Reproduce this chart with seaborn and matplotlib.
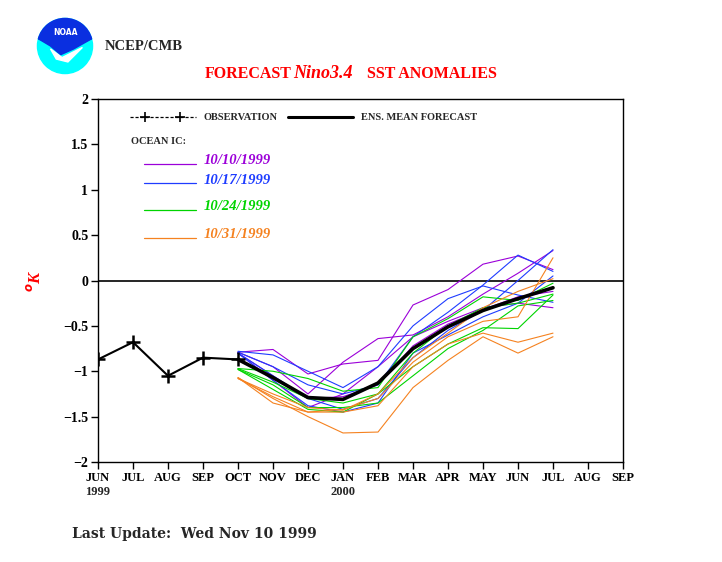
import numpy as np
import pandas as pd
import matplotlib
matplotlib.use("Agg")
import matplotlib.pyplot as plt
import seaborn as sns
from matplotlib.patches import Circle, Wedge, Polygon

# ---------------- data ----------------
month_labels = ["JUN", "JUL", "AUG", "SEP", "OCT", "NOV", "DEC", "JAN",
                "FEB", "MAR", "APR", "MAY", "JUN", "JUL", "AUG", "SEP"]
year_labels = {0: "1999", 7: "2000"}

obs_months = ["JUN", "JUL", "AUG", "SEP", "OCT"]
obs_values = [-0.87, -0.68, -1.05, -0.85, -0.87]

fc_start = 4  # forecasts start at OCT 1999
fc_months = ["OCT", "NOV", "DEC", "JAN", "FEB", "MAR", "APR", "MAY", "JUN", "JUL"]
ens_mean = [-0.87, -1.07, -1.29, -1.31, -1.13, -0.75, -0.51, -0.33, -0.20, -0.08]

ic_labels = ["10/10/1999", "10/17/1999", "10/24/1999", "10/31/1999"]
ic_colors = ["#9b00d9", "#1f3cff", "#00d400", "#f58220"]

members_1010 = [
    [-0.79, -0.76, -1.03, -0.92, -0.88, -0.27, -0.10, 0.18, 0.27, 0.12],
    [-0.79, -0.95, -1.25, -0.90, -0.64, -0.60, -0.40, -0.15, 0.08, 0.33],
    [-0.80, -1.10, -1.40, -1.25, -0.95, -0.62, -0.45, -0.30, -0.25, -0.30],
    [-0.80, -1.05, -1.30, -1.28, -1.15, -0.72, -0.48, -0.32, -0.18, -0.12],
]
members_1017 = [
    [-0.78, -0.82, -1.00, -1.18, -0.95, -0.50, -0.20, -0.06, -0.16, -0.24],
    [-0.79, -0.95, -1.15, -1.25, -1.15, -0.62, -0.35, -0.05, 0.28, 0.10],
    [-0.80, -1.05, -1.30, -1.42, -1.30, -0.85, -0.55, -0.33, 0.00, 0.34],
    [-0.80, -1.10, -1.38, -1.45, -1.35, -0.80, -0.60, -0.40, -0.25, 0.05],
]
members_1024 = [
    [-0.97, -1.00, -1.08, -1.22, -1.18, -0.62, -0.42, -0.18, -0.22, -0.03],
    [-0.97, -1.12, -1.30, -1.35, -1.25, -0.80, -0.50, -0.30, -0.25, -0.15],
    [-0.98, -1.20, -1.42, -1.45, -1.25, -0.95, -0.70, -0.52, -0.53, -0.16],
    [-0.98, -1.15, -1.40, -1.40, -1.35, -1.05, -0.75, -0.55, -0.28, -0.22],
]
members_1031 = [
    [-1.07, -1.30, -1.50, -1.68, -1.67, -1.18, -0.88, -0.62, -0.80, -0.62],
    [-1.07, -1.35, -1.45, -1.45, -1.38, -0.95, -0.70, -0.58, -0.68, -0.58],
    [-1.08, -1.28, -1.45, -1.42, -1.30, -0.90, -0.62, -0.45, -0.40, 0.25],
    [-1.08, -1.25, -1.40, -1.43, -1.25, -0.85, -0.58, -0.30, -0.12, 0.02],
]
all_members = [members_1010, members_1017, members_1024, members_1031]

# ---------------- build tables ----------------
fc_x = list(range(fc_start, fc_start + len(fc_months)))
obs_x = list(range(len(obs_months)))

rows = []
for ic, mem_list in zip(ic_labels, all_members):
    for k, vals in enumerate(mem_list):
        for x, v in zip(fc_x, vals):
            rows.append({"x": x, "value": v, "ic": ic, "member": f"{ic}-{k}"})
members_df = pd.DataFrame(rows)
obs_df = pd.DataFrame({"x": obs_x, "value": obs_values})
mean_df = pd.DataFrame({"x": fc_x, "value": ens_mean})

# ---------------- figure ----------------
sns.set_style("white")
SERIF = ["Liberation Serif", "DejaVu Serif"]
plt.rcParams["font.family"] = SERIF
plt.rcParams["font.weight"] = "bold"

fig = plt.figure(figsize=(7.22, 5.62), dpi=100)
ax = fig.add_axes([98 / 722, 1 - 462 / 562, 525 / 722, 363 / 562])

ax.axhline(0, color="black", lw=1.2, zorder=1)

sns.lineplot(data=members_df, x="x", y="value", hue="ic", units="member",
             estimator=None, palette=dict(zip(ic_labels, ic_colors)),
             lw=0.8, legend=False, ax=ax, zorder=2)
sns.lineplot(data=mean_df, x="x", y="value", color="black", lw=2.6,
             legend=False, ax=ax, zorder=4)
sns.lineplot(data=obs_df, x="x", y="value", color="black", lw=1.5,
             marker="+", markersize=10, markeredgewidth=1.8,
             markeredgecolor="black", markerfacecolor="black",
             legend=False, ax=ax, zorder=5)

ax.set_xlim(0, 15)
ax.set_ylim(-2, 2)
ax.set_xticks(range(len(month_labels)))
ax.set_xticklabels(month_labels, fontsize=9, fontweight="bold")
ax.set_yticks([-2, -1.5, -1, -0.5, 0, 0.5, 1, 1.5, 2])
ax.set_yticklabels(["\u22122", "\u22121.5", "\u22121", "\u22120.5", "0",
                    "0.5", "1", "1.5", "2"], fontsize=10, fontweight="bold")
ax.tick_params(axis="both", direction="out", length=5, width=1,
               colors="black", pad=2, bottom=True, left=True)
for s in ax.spines.values():
    s.set_color("black")
    s.set_linewidth(1)
ax.set_xlabel("")
ax.set_ylabel("")

for idx, yl in year_labels.items():
    ax.text(idx, -0.065, yl, transform=ax.get_xaxis_transform(), ha="center",
            va="top", fontsize=9, fontweight="bold")

fig.text(35 / 722, 1 - 281 / 562, "$^o$K", color="red", fontsize=12,
         rotation=90, ha="center", va="center", style="italic")

# ---------------- legend (manual) ----------------
def axfrac(px, py):
    return ((px - 98) / 525, (462 - py) / 363)

x0, y0 = axfrac(130, 117)
x1, _ = axfrac(196, 117)
ax.plot([x0, x1], [y0, y0], transform=ax.transAxes, color="black", lw=0.9,
        ls=(0, (2.5, 1.5)), zorder=6)
for px in (145, 180):
    xx, _ = axfrac(px, 117)
    ax.plot([xx], [y0], transform=ax.transAxes, marker="+", color="black",
            markersize=7, mew=1.2)
tx, _ = axfrac(203, 117)
ax.text(tx, y0, "OBSERVATION", transform=ax.transAxes, fontsize=7.5,
        va="center", ha="left")
xa, _ = axfrac(288, 117)
xb, _ = axfrac(353, 117)
ax.plot([xa, xb], [y0, y0], transform=ax.transAxes, color="black", lw=2.2)
tx, _ = axfrac(361, 117)
ax.text(tx, y0, "ENS. MEAN FORECAST", transform=ax.transAxes, fontsize=7.5,
        va="center", ha="left")
tx, ty = axfrac(131, 142)
ax.text(tx, ty, "OCEAN IC:", transform=ax.transAxes, fontsize=7.5,
        va="center", ha="left")
for lab, col, py in zip(ic_labels, ic_colors, [164, 183, 210, 238]):
    xa, yy = axfrac(144, py)
    xb, _ = axfrac(196, py)
    ax.plot([xa, xb], [yy, yy], transform=ax.transAxes, color=col, lw=0.9)
    tx, _ = axfrac(204, py)
    ax.text(tx, yy + 3 / 363, lab, transform=ax.transAxes, fontsize=10.5,
            va="center", ha="left", color=col, style="italic")

# ---------------- header ----------------
fig.text(105 / 722, 1 - 46 / 562, "NCEP/CMB", fontsize=10.5, fontweight="bold",
         va="center", ha="left")
ty = 1 - 74 / 562
fig.text(205 / 722, ty, "FORECAST", color="red", fontsize=11.5,
         fontweight="bold", va="center", ha="left")
fig.text(293 / 722, ty, "Nino3.4", color="red", fontsize=13,
         fontweight="bold", style="italic", va="center", ha="left")
fig.text(367 / 722, ty, "SST ANOMALIES", color="red", fontsize=11.5,
         fontweight="bold", va="center", ha="left")

fig.text(72 / 722, 1 - 534 / 562, "Last Update:  Wed Nov 10 1999",
         fontsize=10, fontweight="bold", va="center", ha="left",
         family="DejaVu Serif")

# ---------------- logo ----------------
lax = fig.add_axes([36 / 722, 1 - 75 / 562, 58 / 722, 58 / 562])
lax.set_xlim(-1, 1)
lax.set_ylim(-1, 1)
lax.set_aspect("equal")
lax.axis("off")
lax.add_patch(Circle((0, 0), 0.95, color="#00ffff"))
lax.add_patch(Wedge((0, 0), 0.95, 15, 165, color="#0a2fe0"))
lax.add_patch(Polygon([[-0.92, 0.25], [-0.5, 0.0], [-0.15, -0.3], [0.3, -0.1],
                       [0.92, 0.25], [0.5, 0.35], [-0.5, 0.35]],
                      closed=True, color="#0a2fe0"))
lax.add_patch(Polygon([[-0.5, -0.1], [-0.1, -0.4], [0.6, -0.05], [0.1, -0.55],
                       [-0.3, -0.45]], closed=True, color="white"))
lax.text(0, 0.45, "NOAA", color="white", fontsize=5.5, fontweight="bold",
         ha="center", va="center", family="DejaVu Sans")

fig.savefig("out.png", dpi=100, facecolor="white")
